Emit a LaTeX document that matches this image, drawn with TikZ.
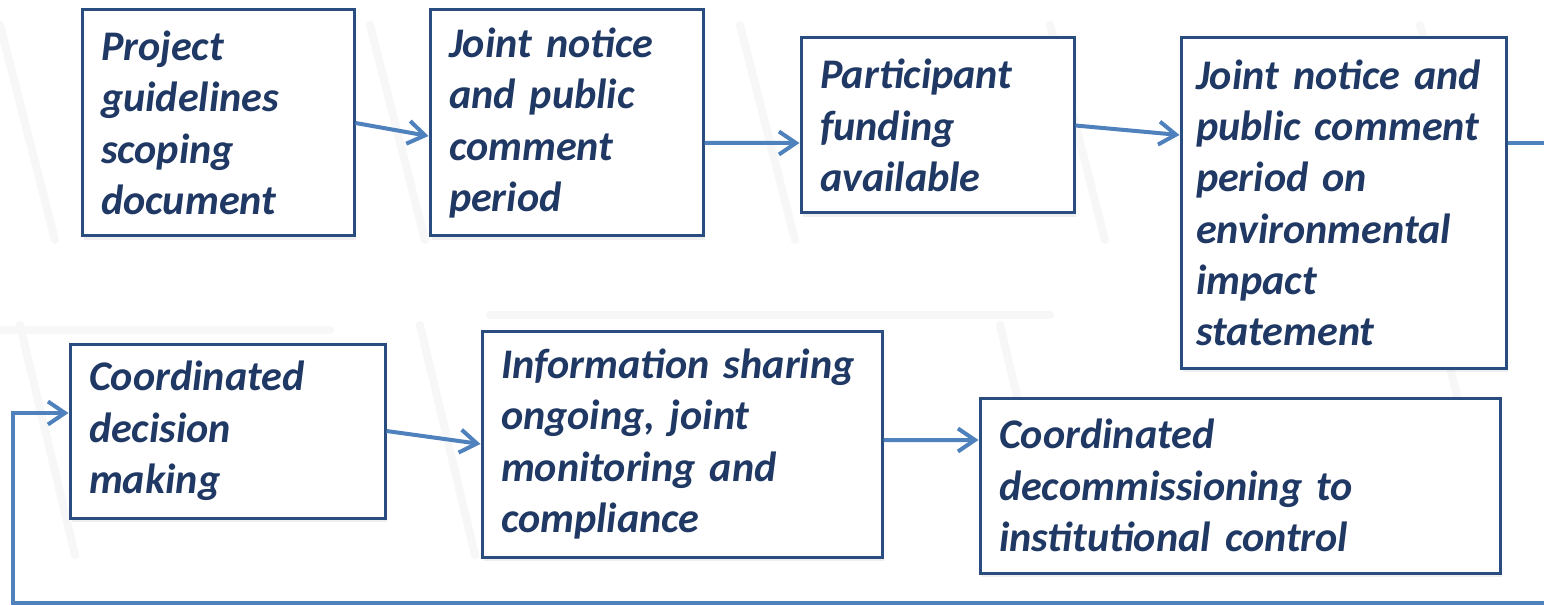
\documentclass[tikz,border=0pt]{standalone}
\usepackage{fontspec}
\setmainfont{Carlito}
\usepackage{xcolor}
\usepackage{tikz}
\usetikzlibrary{calc, arrows.meta, shadows, backgrounds, positioning}
\definecolor{textnavy}{HTML}{1F3864}
\definecolor{boxnavy}{HTML}{2A4D7F}
\definecolor{flowblue}{HTML}{4F81BD}
\newcommand{\stagefont}{\fontsize{24}{29.2}\selectfont\bfseries\itshape}
\tikzset{
    stagenode/.style = {draw=boxnavy, line width=0.06cm, rectangle, fill=white, node distance=0em,
      inner xsep=0.38cm, inner ysep=0.1cm, align=left, text=textnavy, font=\stagefont,
      drop shadow={shadow xshift=0.04cm, shadow yshift=-0.08cm, opacity=0.12}},
    flow/.style = {draw=flowblue, line width=0.08cm, -{Straight Barb[length=0.34cm, width=0.46cm, line width=0.08cm]}},
    ghost/.style = {draw=gray!6, line width=0.16cm, line cap=round}
}

\begin{document}
\begin{tikzpicture}
    \fill[white] (0,0) rectangle (30.88,-12.1);
    \useasboundingbox (0,0) rectangle (30.88,-12.1);

    % faint background shapes
    \foreach \x in {0, 7.4, 14.8, 21.0, 28.4} {
        \draw[ghost] (\x, -0.5) -- ++(1.1, -4.3);
    }
    \foreach \x in {0.4, 8.4, 20.0, 28.8} {
        \draw[ghost] (\x, -6.5) -- ++(1.1, -4.6);
    }
    \draw[ghost] (0, -6.6) -- (6.6, -6.6);
    \draw[ghost] (9.8, -6.3) -- (21, -6.3);

    \node [stagenode, name=guide, minimum width=5.44cm, minimum height=4.52cm, text width=4.68cm] at (4.36,-2.46)
        {Project\\guidelines\\scoping\\document};
    \node [stagenode, name=notice, right of = guide, xshift=6.97cm, minimum width=5.46cm, minimum height=4.52cm, text width=4.7cm]
        {Joint notice\\and public\\comment\\period};
    \node [stagenode, name=funding, right of = notice, xshift=7.42cm, yshift=-0.05cm, minimum width=5.46cm, minimum height=3.5cm, text width=4.7cm]
        {Participant\\funding\\available};
    \node [stagenode, name=eis, right of = funding, xshift=8.12cm, yshift=-1.55cm, minimum width=6.5cm, minimum height=6.6cm, text width=5.9cm, inner xsep=0.3cm]
        {Joint notice and\\public comment\\period on\\environmental\\impact\\statement};

    \node [stagenode, name=decision, right of = guide, xshift=0.19cm, yshift=-6.16cm, minimum width=6.3cm, minimum height=3.48cm, text width=5.54cm]
        {Coordinated\\decision\\making};
    \node [stagenode, name=sharing, right of = decision, xshift=9.09cm, yshift=-0.26cm, minimum width=8cm, minimum height=4.52cm, text width=7.24cm]
        {Information sharing\\ongoing, joint\\monitoring and\\compliance};
    \node [stagenode, name=decom, right of = sharing, xshift=11.16cm, yshift=-0.83cm, minimum width=10.4cm, minimum height=3.5cm, text width=9.64cm]
        {Coordinated\\decommissioning to\\institutional control};

    \coordinate (loopR) at (31.4,-12.06);
    \coordinate (loopL) at (0.26,-12.06);

    \draw[flow] (guide.east) -- ([yshift=-0.26cm]notice.west);
    \draw[flow] ([yshift=-0.4cm]notice.east) -- ([yshift=-0.35cm]funding.west);
    \draw[flow] (funding.east) -- ([yshift=1.36cm]eis.west);
    \draw[flow] ([yshift=1.2cm]eis.east) -| (loopR) -- (loopL) |- ([yshift=0.36cm]decision.west);
    \draw[flow] (decision.east) -- (sharing.west);
    \draw[flow] ([yshift=0.08cm]sharing.east) -- ([yshift=0.91cm]decom.west);
\end{tikzpicture}
\end{document}
